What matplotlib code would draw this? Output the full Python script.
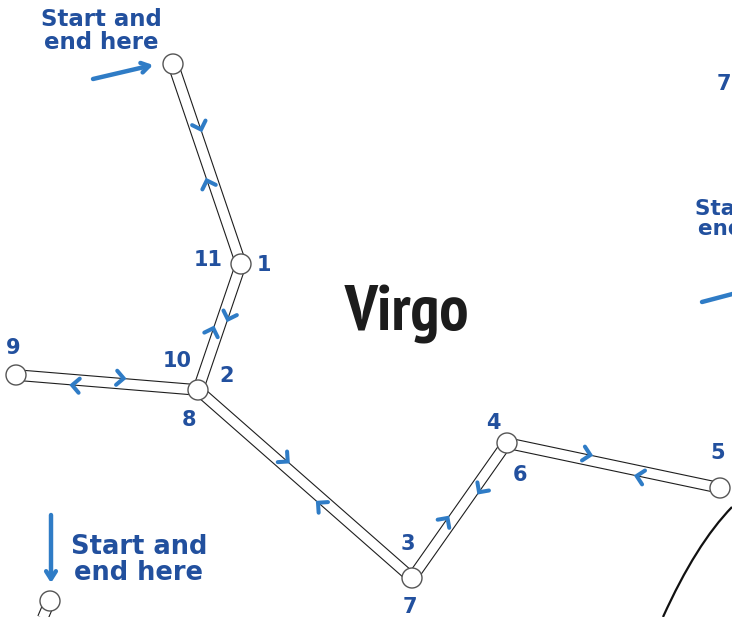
import numpy as np
import matplotlib.pyplot as plt
from matplotlib import font_manager as fm
from matplotlib.patches import Circle, PathPatch
from matplotlib.path import Path

W, H = 732, 617

# звёзды созвездия (пиксели, ось y вниз)
star_names = ['start', 's1', 's2', 's9', 's3', 's4', 's5', 'corner', 'corner_out']
star_x = [173, 241, 198, 16, 412, 507, 720, 50, 24]
star_y = [64, 264, 390, 375, 578, 443, 488, 601, 662]

# отрезки маршрута
seg_from = ['start', 's1', 's2', 's2', 's3', 's4', 'corner']
seg_to = ['s1', 's2', 's9', 's3', 's4', 's5', 'corner_out']

# стрелки-шевроны: откуда, куда, доля пути
chev_from = ['start', 's1', 's1', 's2', 's2', 's3', 's3', 's4', 's4', 's5', 's9', 's2']
chev_to = ['s1', 'start', 's2', 's1', 's3', 's2', 's4', 's3', 's5', 's4', 's2', 's9']
chev_t = [0.32, 0.41, 0.40, 0.45, 0.39, 0.41, 0.40, 0.32, 0.37, 0.37, 0.57, 0.67]

# номера шагов у звёзд
label_text = ['11', '1', '10', '2', '8', '9', '3', '7', '4', '6', '5']
label_star = ['s1', 's1', 's2', 's2', 's2', 's9', 's3', 's3', 's4', 's4', 's5']
label_dx = [-33, 23, -21, 29, -9, -3, -4, -2, -14, 13, -2]
label_dy = [-4, 1, -29, -14, 30, -27, -34, 29, -20, 32, -35]

BLUE_TXT = '#22509e'
BLUE_ARR = '#2f7cc6'


def condensed_font():
    """Ищем узкий жирный шрифт для заголовка"""
    best = None
    for f in fm.fontManager.ttflist:
        narrow = ('Narrow' in f.name or 'Condensed' in f.name
                  or f.stretch in ('condensed', 'semi-condensed', 'extra-condensed'))
        w = f.weight if isinstance(f.weight, int) else 400
        if narrow and w >= 600:
            score = 0 if 'Narrow' in f.name else 1
            if best is None or score < best[0]:
                best = (score, f.fname)
    return fm.FontProperties(fname=best[1]) if best else None


pos = {n: np.array([x, y], float) for n, x, y in zip(star_names, star_x, star_y)}

fig = plt.figure(figsize=(W / 100, H / 100), dpi=100)
ax = fig.add_axes([0, 0, 1, 1])
ax.set_xlim(0, W)
ax.set_ylim(H, 0)
ax.axis('off')

# полосы маршрута: чёрная толстая линия + белая поверх
for a, b in zip(seg_from, seg_to):
    p, q = pos[a], pos[b]
    ax.plot([p[0], q[0]], [p[1], q[1]], color='#1e1e1e', lw=8.4,
            solid_capstyle='butt', zorder=1)
for a, b in zip(seg_from, seg_to):
    p, q = pos[a], pos[b]
    ax.plot([p[0], q[0]], [p[1], q[1]], color='white', lw=6.8,
            solid_capstyle='butt', zorder=2)

# звёзды
for n in star_names:
    ax.add_patch(Circle(pos[n], 10, facecolor='white', edgecolor='#555555',
                        lw=1.0, zorder=3))

# шевроны
arm, ang, off = 10, np.radians(45), 5.5
for a, b, t in zip(chev_from, chev_to, chev_t):
    p, q = pos[a], pos[b]
    d = (q - p) / np.linalg.norm(q - p)
    nrm = np.array([d[1], -d[0]])
    c = p + t * (q - p) + off * nrm
    tip = c + d * 3.5
    pts = []
    for s in (1, -1):
        rot = np.array([[np.cos(s * ang), -np.sin(s * ang)],
                        [np.sin(s * ang), np.cos(s * ang)]])
        pts.append(tip - arm * rot @ d)
    xs = [pts[0][0], tip[0], pts[1][0]]
    ys = [pts[0][1], tip[1], pts[1][1]]
    ax.plot(xs, ys, color=BLUE_ARR, lw=2.9, solid_capstyle='round',
            solid_joinstyle='miter', zorder=4)

# номера
for txt, n, dx, dy in zip(label_text, label_star, label_dx, label_dy):
    ax.text(pos[n][0] + dx, pos[n][1] + dy, txt, color=BLUE_TXT, fontsize=15,
            fontweight='bold', ha='center', va='center', zorder=5)
ax.text(724, 84, '7', color=BLUE_TXT, fontsize=15, fontweight='bold',
        ha='center', va='center')

# надпись созвездия
fp = condensed_font()
if fp is not None:
    fp.set_size(47)
    ax.text(407, 331, 'Virgo', fontproperties=fp, color='#1c1c1c',
            ha='center', va='baseline')
else:
    ax.text(407, 331, 'Virgo', fontsize=36, fontweight='bold', color='#1c1c1c',
            ha='center', va='baseline')

# "Start and end here"
ax.text(101, 31, 'Start and\nend here', color=BLUE_TXT, fontsize=16.5,
        fontweight='bold', ha='center', va='center', linespacing=0.95)
ax.text(139, 560, 'Start and\nend here', color=BLUE_TXT, fontsize=18.5,
        fontweight='bold', ha='center', va='center', linespacing=0.95)
ax.text(695, 219, 'Start and\nend here', color=BLUE_TXT, fontsize=15.5,
        fontweight='bold', ha='left', va='center', multialignment='center',
        linespacing=0.95)

aprops = dict(arrowstyle='->,head_length=0.55,head_width=0.35', color=BLUE_ARR,
              lw=3.2, shrinkA=0, shrinkB=0)
ax.annotate('', xy=(153, 65), xytext=(93, 79), arrowprops=aprops)
ax.annotate('', xy=(51, 583), xytext=(51, 515), arrowprops=aprops)
ax.plot([702, 740], [302, 292], color=BLUE_ARR, lw=3.2, solid_capstyle='round')

# дуга справа внизу
arc = Path([(732, 507), (696, 544), (663, 617)],
           [Path.MOVETO, Path.CURVE3, Path.CURVE3])
ax.add_patch(PathPatch(arc, facecolor='none', edgecolor='#111111', lw=1.6))

fig.savefig('out.png', dpi=100)
